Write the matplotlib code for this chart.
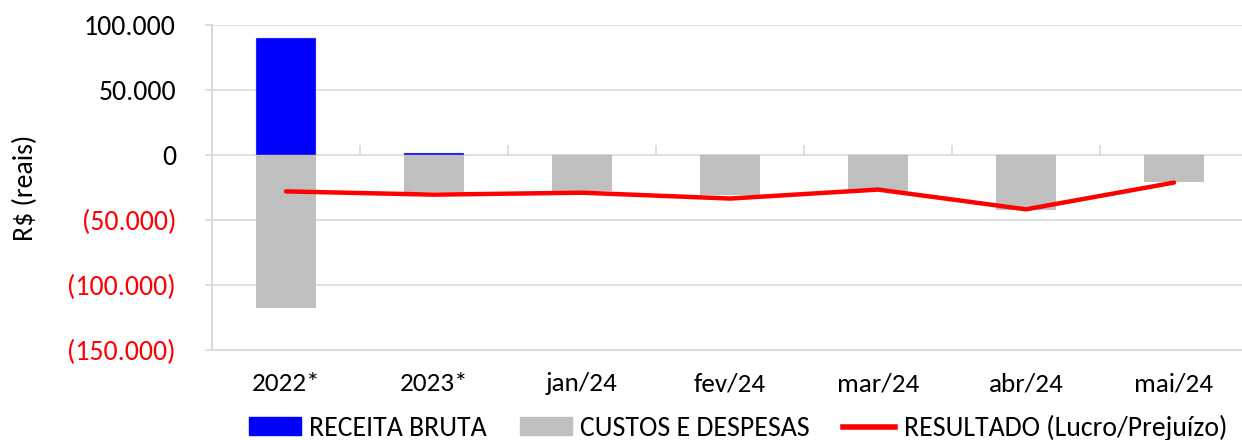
import matplotlib
matplotlib.use("Agg")
import matplotlib.pyplot as plt
from matplotlib.patches import Patch
from matplotlib.lines import Line2D
from matplotlib.ticker import FuncFormatter
import numpy as np

plt.rcParams['font.family'] = ['Carlito', 'Roboto Condensed', 'Liberation Sans Narrow', 'Lato', 'DejaVu Sans']

categorias = ['2022*', '2023*', 'jan/24', 'fev/24', 'mar/24', 'abr/24', 'mai/24']
receita = [90000, 1500, 0, 0, 300, 300, 0]
custos = [-118000, -28500, -27700, -30500, -27700, -42000, -21000]
resultado = [-28000, -30500, -29000, -33500, -26600, -41800, -21200]
y_ticks = [100000, 50000, 0, -50000, -100000, -150000]

grid_c = '#d9d9d9'
fs = 20

fig = plt.figure(figsize=(12.42, 4.40), dpi=100)
ax = fig.add_axes([212 / 1242, 1 - 350 / 440, 1036 / 1242, 325 / 440])

x = np.arange(len(categorias))
ax.bar(x, receita, width=0.4, color='#0000ff', edgecolor='#bfbfbf', linewidth=0.3, zorder=3)
ax.bar(x, custos, width=0.4, color='#bfbfbf', zorder=3)
ax.plot(x, resultado, color='#ff0000', lw=3.2, solid_capstyle='round', zorder=4)

ax.set_xlim(-0.5, len(categorias) - 0.5)
ax.set_ylim(-150000, 100000)
ax.set_yticks(y_ticks)
ax.yaxis.grid(True, color=grid_c, lw=1.2, zorder=0)
ax.set_axisbelow(True)

def fmt(v, pos):
    s = '{:,.0f}'.format(abs(v)).replace(',', '.')
    return '(' + s + ')' if v < 0 else s

ax.yaxis.set_major_formatter(FuncFormatter(fmt))
ax.tick_params(axis='y', labelsize=fs, length=5, color=grid_c, width=1.2, pad=21)
for lbl, v in zip(ax.get_yticklabels(), y_ticks):
    lbl.set_color('red' if v < 0 else 'black')

ax.set_xticks(x)
ax.set_xticklabels(categorias)
ax.tick_params(axis='x', labelsize=fs - 0.5, length=0, pad=16)

for side in ['top', 'right']:
    ax.spines[side].set_visible(False)
ax.spines['left'].set_color(grid_c)
ax.spines['left'].set_linewidth(1.5)
ax.spines['bottom'].set_color(grid_c)
ax.spines['bottom'].set_linewidth(1.2)

# eixo das categorias no zero, com marcas entre categorias
zero = ax.secondary_xaxis(150000 / 250000)
zero.set_xticks(x[:-1] + 0.5)
zero.tick_params(axis='x', direction='out', length=7, color=grid_c, width=1.2, labelbottom=False, labeltop=False)
zero.spines['bottom'].set_color(grid_c)
zero.spines['bottom'].set_linewidth(1.5)
zero.spines['top'].set_visible(False)

ax.set_ylabel('R$ (reais)', fontsize=fs)
ax.yaxis.set_label_coords(-0.168, 0.5)

handles = [Patch(color='#0000ff'), Patch(color='#bfbfbf'),
           Line2D([0], [0], color='#ff0000', lw=4)]
fig.legend(handles, ['RECEITA BRUTA', 'CUSTOS E DESPESAS', 'RESULTADO (Lucro/Prejuízo)'],
           loc='center', bbox_to_anchor=(738 / 1242, 1 - 428 / 440), ncol=3, frameon=False,
           fontsize=fs, handlelength=1.87, handleheight=0.6, handletextpad=0.3,
           columnspacing=1.2, borderaxespad=0)

fig.savefig('out.png', dpi=100)
